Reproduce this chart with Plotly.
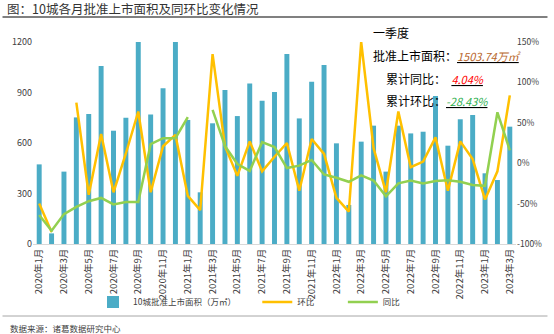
import plotly.graph_objects as go

# Monthly labels, Jan 2020 – Mar 2023
months = [f"{y}年{m}月" for y in (2020, 2021, 2022) for m in range(1, 13)] + ["2023年1月", "2023年2月", "2023年3月"]

# 10-city approved listing area (10k m²)
area = [473, 63, 430, 752, 772, 1057, 673, 750, 1230, 770, 925, 1250,
        737, 307, 717, 915, 760, 954, 851, 903, 1129, 746, 964, 1063,
        598, 232, 608, 703, 430, 703, 657, 667, 879, 584, 741, 766,
        420, 380, 697]

# Month-on-month change (fraction)
mom = [-0.50, -0.85, None, 0.75, -0.39, 0.36, -0.36, 0.12, 0.64, -0.36, 0.21, 0.35,
       -0.405, -0.58, 1.35, 0.21, -0.157, 0.27, -0.10, 0.08, 0.25, -0.34, 0.30, 0.116,
       -0.43, -0.60, 1.50, 0.186, -0.36, 0.64, -0.05, 0.02, 0.32, -0.34, 0.27, 0.05,
       -0.45, -0.10, 0.84]

# Year-on-year change (fraction)
yoy = [-0.64, -0.836, -0.63, -0.54, -0.47, -0.43, -0.51, -0.48, -0.48, 0.236, 0.31, 0.31,
       0.57, None, 0.66, 0.215, -0.01, -0.095, 0.26, 0.20, -0.06, -0.03, 0.04, -0.14,
       -0.18, -0.23, -0.15, -0.215, -0.41, -0.25, -0.215, -0.25, -0.22, -0.21, -0.23, -0.27,
       -0.28, 0.63, 0.16]

left_ticks = [0, 300, 600, 900, 1200]
right_ticks = [-1.0, -0.5, 0.0, 0.5, 1.0, 1.5]
right_labels = ["-100%", "-50%", "0%", "50%", "100%", "150%"]

W, H = 554, 334
L, R, T, B = 31, 522, 42, 244
FONT = "Noto Sans CJK SC"


def px(x):
    return (x - L) / (R - L)


def py(y):
    return (B - y) / (B - T)


fig = go.Figure()
fig.add_trace(go.Bar(x=months, y=area, name="10城批准上市面积（万㎡）",
                     marker=dict(color="#4BACC6", line=dict(width=0)), legend="legend"))
fig.add_trace(go.Scatter(x=months, y=mom, name="环比", mode="lines", yaxis="y2",
                         line=dict(color="#FFC000", width=2.5), legend="legend2"))
fig.add_trace(go.Scatter(x=months, y=yoy, name="同比", mode="lines", yaxis="y2",
                         line=dict(color="#92D050", width=2.5), legend="legend3"))

legend_common = dict(orientation="h", yanchor="middle", y=py(302), xanchor="left",
                     font=dict(family=FONT, size=8.5, color="#404040"),
                     bgcolor="rgba(0,0,0,0)")

fig.update_layout(
    width=W, height=H,
    margin=dict(l=L, r=W - R, t=T, b=H - B),
    paper_bgcolor="white", plot_bgcolor="white",
    font=dict(family=FONT, size=10, color="#404040"),
    bargap=0.6,
    xaxis=dict(type="category", tickmode="array", tickvals=months[::2], ticktext=months[::2],
               tickangle=-90, tickfont=dict(size=9.5, color="#404040"),
               showgrid=False, showline=True, linecolor="#D9D9D9", linewidth=1,
               ticks="", zeroline=False),
    yaxis=dict(range=[0, 1200], tickvals=left_ticks, showgrid=False, zeroline=False,
               showline=False, ticks="", tickfont=dict(size=9, color="#404040")),
    yaxis2=dict(range=[-1.0, 1.5], overlaying="y", side="right", tickvals=right_ticks,
                ticktext=right_labels, showgrid=False, zeroline=False, showline=False,
                ticks="", tickfont=dict(size=8.5, color="#404040")),
    legend=dict(x=px(92), **legend_common),
    legend2=dict(x=px(259), **legend_common),
    legend3=dict(x=px(346), **legend_common),
    showlegend=True,
)

# Header and footer
fig.add_annotation(xref="paper", yref="paper", x=px(3), y=py(8), xanchor="left", yanchor="middle",
                   text="图：10城各月批准上市面积及同环比变化情况", showarrow=False,
                   font=dict(family=FONT, size=12.5, color="#333333"))
fig.add_shape(type="line", xref="paper", yref="paper", x0=px(0), x1=px(W), y0=py(17), y1=py(17),
              line=dict(color="#808080", width=2))
fig.add_shape(type="line", xref="paper", yref="paper", x0=px(0), x1=px(W), y0=py(316), y1=py(316),
              line=dict(color="#A6A6A6", width=1))
fig.add_annotation(xref="paper", yref="paper", x=px(6), y=py(328), xanchor="left", yanchor="middle",
                   text="数据来源：诸葛数据研究中心", showarrow=False,
                   font=dict(family=FONT, size=8.5, color="#404040"))

# Q1 summary text block
summary = [
    (375, 33, "一季度"),
    (375, 56, "批准上市面积：<i><u><span style='color:#B8662A;font-size:11px'>1503.74万㎡</span></u></i>"),
    (388, 78, "累计同比：  <i><u><span style='color:#FF0000;font-size:11px'>4.04%</span></u></i>"),
    (388, 100, "累计环比：<i><u><span style='color:#2EAF4E;font-size:11px'>-28.43%</span></u></i>"),
]
for x, y, txt in summary:
    fig.add_annotation(xref="paper", yref="paper", x=px(x), y=py(y), xanchor="left", yanchor="middle",
                       text=txt, showarrow=False, font=dict(family=FONT, size=12, color="#000000"))

fig.write_html("out.html")
